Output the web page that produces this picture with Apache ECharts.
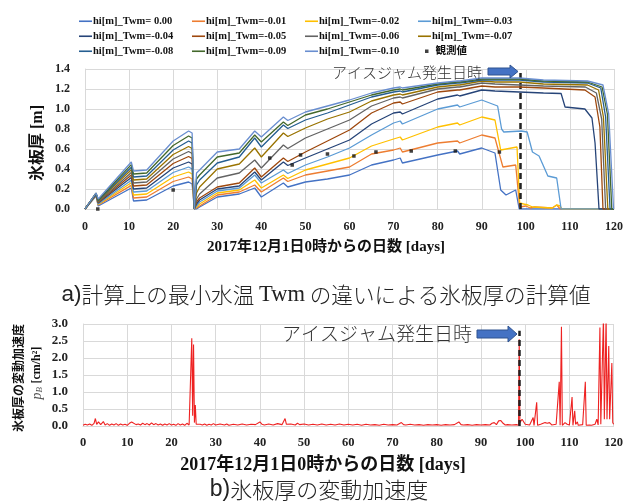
<!DOCTYPE html>
<html><head><meta charset="utf-8">
<script src="https://cdn.jsdelivr.net/npm/echarts/dist/echarts.min.js"></script>
<style>html,body{margin:0;padding:0;background:#fff}#c{width:626px;height:504px}</style>
</head><body><div id="c"></div>
<script>
// ---------- DATA ----------
const xTicks = [0,10,20,30,40,50,60,70,80,90,100,110,120];
const seriesNames = ['hi[m]_Twm= 0.00','hi[m]_Twm=-0.01','hi[m]_Twm=-0.02','hi[m]_Twm=-0.03',
  'hi[m]_Twm=-0.04','hi[m]_Twm=-0.05','hi[m]_Twm=-0.06','hi[m]_Twm=-0.07',
  'hi[m]_Twm=-0.08','hi[m]_Twm=-0.09','hi[m]_Twm=-0.10'];
const obsName = '観測値';
// common knots (days) for the growth period
const growDays = [0,2.5,3,10.5,11,14,20,23.5,24.3,24.8,25.3,26,30,35,38.5,40,45,46,50,55,60,65,70,71.5,72,80,84.5,85,90,93];
const hi000 = [0,.13,.03,.21,.08,.09,.23,.27,.25,0,0,.02,.12,.15,.21,.12,.26,.22,.27,.30,.34,.44,.49,.51,.46,.54,.58,.55,.61,.56];
const hi001 = [0,.135,.04,.236,.11,.12,.275,.32,.30,0,.01,.03,.14,.17,.24,.17,.31,.275,.34,.38,.42,.55,.59,.61,.57,.66,.68,.66,.74,.71];
const hi002 = [0,.14,.045,.262,.14,.15,.32,.37,.35,0,.02,.05,.16,.19,.29,.21,.34,.305,.39,.45,.51,.63,.70,.72,.69,.82,.86,.84,.92,.89];
const hi003 = [0,.14,.05,.288,.17,.18,.365,.42,.40,0,.03,.07,.18,.21,.34,.26,.39,.355,.44,.52,.61,.74,.86,.88,.85,1.00,1.04,1.02,1.09,1.04];
const hi004 = [0,.145,.06,.314,.20,.21,.41,.47,.45,0,.05,.09,.20,.23,.37,.29,.47,.435,.51,.60,.69,.85,.96,.97,.95,1.10,1.14,1.13,1.19,1.18];
const hi005 = [0,.15,.065,.34,.23,.24,.455,.525,.505,0,.07,.11,.22,.26,.41,.32,.51,.475,.57,.68,.79,.96,1.06,1.07,1.05,1.17,1.19,1.19,1.23,1.22];
const hi006 = [0,.15,.07,.366,.26,.27,.50,.575,.555,0,.10,.15,.31,.36,.49,.41,.64,.605,.71,.80,.89,1.03,1.11,1.12,1.11,1.20,1.22,1.22,1.26,1.25];
const hi007 = [0,.155,.08,.392,.29,.30,.545,.625,.605,0,.16,.22,.40,.45,.61,.52,.76,.725,.81,.90,.97,1.08,1.14,1.15,1.14,1.22,1.24,1.24,1.28,1.27];
const hi008 = [0,.155,.085,.418,.32,.33,.59,.68,.66,0,.24,.29,.46,.52,.71,.62,.84,.805,.89,.96,1.04,1.12,1.17,1.18,1.17,1.24,1.26,1.26,1.29,1.29];
const hi009 = [0,.16,.09,.444,.35,.36,.635,.73,.71,0,.30,.34,.52,.56,.74,.67,.87,.835,.94,1.00,1.07,1.14,1.19,1.20,1.19,1.25,1.27,1.27,1.30,1.30];
const hi010 = [0,.16,.10,.47,.38,.39,.68,.78,.76,0,.36,.39,.57,.60,.78,.72,.92,.885,.97,1.03,1.09,1.16,1.21,1.22,1.21,1.26,1.28,1.28,1.31,1.31];
// tails after day 93: [day, value]
const tail000 = [[94.3,.19],[95.5,.14],[97.7,.19],[98.5,0],[120,0]];
const tail001 = [[94.8,.42],[97.7,.44],[98.6,.02],[100,.03],[101,.01],[102,.02],[106,.01],[107,.04],[107.8,0],[120,0]];
const tail002 = [[94.3,.59],[98,.62],[98.6,.06],[99.5,.05],[100.5,.04],[101.5,.02],[106,.01],[107,.04],[107.8,.03],[108.2,0],[120,0]];
const tail003 = [[93.6,1.03],[94.5,.80],[95,.77],[99,.78],[100.3,.77],[101.5,.57],[103,.53],[105,.33],[107,.31],[108,0],[120,0]];
const tail004 = [[98.5,1.17],[104,1.16],[108,1.155],[108.9,1.02],[113.4,1.0],[115,.91],[115.7,.66],[116.6,0],[120,0]];
const tail005 = [[98.5,1.22],[104,1.21],[113.4,1.19],[115.7,1.12],[116.8,.82],[117.5,0],[120,0]];
const tail006 = [[98.5,1.24],[104,1.23],[113.5,1.22],[116,1.16],[117.2,.9],[118.1,0],[120,0]];
const tail007 = [[98.5,1.27],[104,1.25],[114,1.24],[116.5,1.19],[117.6,.92],[118.6,0],[120,0]];
const tail008 = [[98.5,1.29],[104,1.27],[114,1.26],[117,1.21],[118.1,.92],[119.1,0],[120,0]];
const tail009 = [[98.5,1.30],[104,1.28],[114,1.27],[117.3,1.22],[118.5,.95],[119.5,0],[120,0]];
const tail010 = [[98.5,1.31],[104,1.29],[114,1.28],[117.5,1.24],[118.8,.95],[119.9,0]];
const observed = [[2.9,0.0],[20,0.19],[41.9,0.51],[47,0.44],[48.9,0.54],[55,0.55],[61,0.53],[66,0.57],[74,0.58],[84,0.58],[94,0.57]];
const iceJamDay = 98.7;
// p_B (bottom chart)
const pB = [[0,.02],[0.5,.05],[1,.03],[1.5,.06],[2,.02],[2.5,.08],[2.8,.22],[3.1,.05],[3.5,.12],[4,.04],[4.6,.13],[5,.03],[5.5,.07],[6,.02],[6.5,.06],[7,.03],[7.5,.07],[8,.02],[8.5,.06],[9,.03],[9.5,.05],[10,.02],[10.5,.08],[11,.12],[11.4,.07],[12,.04],[12.5,.06],[13,.03],[13.5,.08],[14,.04],[14.5,.07],[15,.03],[15.5,.09],[16,.04],[16.5,.07],[17,.03],[17.5,.06],[18,.02],[18.5,.06],[19,.03],[19.5,.07],[20,.03],[20.5,.05],[21,.02],[21.5,.07],[22,.03],[22.5,.06],[23,.02],[23.5,.08],[24,.03],[24.4,.05],[24.6,2.58],[24.8,.3],[25,2.4],[25.2,.1],[25.4,.62],[25.6,.05],[26,.02],[26.5,.05],[27,.03],[27.5,.06],[28,.02],[28.5,.05],[29,.03],[29.5,.07],[30,.03],[31,.06],[32,.03],[32.5,.06],[33,.02],[34,.05],[35,.03],[36,.06],[37,.03],[38,.05],[39,.04],[40,.12],[40.5,.05],[41,.03],[42,.06],[43,.03],[44,.07],[45,.04],[45.7,.22],[46,.05],[47,.06],[48,.03],[48.5,.08],[49,.04],[50,.06],[51,.03],[52,.05],[53,.03],[54,.06],[55,.03],[56,.05],[57,.03],[58,.06],[59,.03],[60,.05],[61,.03],[62,.05],[63,.02],[64,.05],[65,.03],[66,.04],[67,.02],[68,.05],[69,.03],[70,.04],[71,.03],[72,.1],[72.5,.04],[73,.03],[74,.05],[75,.03],[76,.04],[77,.02],[78,.04],[79,.03],[80,.04],[81,.02],[82,.04],[83,.03],[84,.04],[85,.12],[85.5,.04],[86,.03],[87,.04],[88,.02],[89,.04],[90,.03],[91,.04],[92,.03],[92.5,.08],[93,.1],[93.5,.04],[94,.15],[94.5,.16],[95,.08],[95.5,.03],[96,.04],[97,.03],[98,.04],[98.5,.02],[98.65,2.55],[98.8,.1],[99.3,.2],[99.6,.22],[100,.05],[101,.03],[101.8,.25],[102,.02],[102.6,.7],[102.8,.02],[103.5,.05],[104.5,.1],[105,.08],[105.5,.1],[106,.03],[107,.05],[107.7,1.3],[107.9,.02],[108.2,2.92],[108.4,.02],[109,.1],[109.5,.05],[110,.03],[110.6,.85],[110.8,.02],[111.2,.45],[111.4,.05],[111.8,.12],[112,.02],[113,.04],[113.6,1.3],[113.8,.02],[114.5,.03],[115,.02],[115.8,.05],[116.2,.2],[116.5,.03],[116.9,2.9],[117.1,.05],[117.7,3.2],[117.9,.2],[118.3,3.2],[118.5,.2],[118.9,2.35],[119.1,.2],[119.6,1.85],[119.8,.1],[120,.05]];

// ---------- CHART ----------
const colors = ['#4472C4','#ED7D31','#FFC000','#5B9BD5','#264478','#9E480E','#636363','#997300','#255E91','#43682B','#698ED0'];
const grows = [hi000,hi001,hi002,hi003,hi004,hi005,hi006,hi007,hi008,hi009,hi010];
const tails = [tail000,tail001,tail002,tail003,tail004,tail005,tail006,tail007,tail008,tail009,tail010];
const SERIF = "'Liberation Serif','Times New Roman','Noto Sans CJK JP',serif";
const JP = "'Liberation Serif','Noto Sans CJK JP',sans-serif";
const gridColor = '#d9d9d9';

function xAx(gi, fs, mg){
  return {type:'value', gridIndex:gi, min:0, max:120, interval:10,
    axisLine:{show:true, lineStyle:{color:gridColor}}, axisTick:{show:false},
    splitLine:{show:true, lineStyle:{color:gridColor}},
    axisLabel:{fontFamily:SERIF, fontWeight:'bold', fontSize:fs, color:'#222', margin:mg}};
}
const series = [];
for (let i=0;i<11;i++){
  const data = growDays.map((d,k)=>[d, grows[i][k]]).concat(tails[i]);
  series.push({name:seriesNames[i], type:'line', xAxisIndex:0, yAxisIndex:0, data, symbol:'none', showSymbol:false,
    lineStyle:{width:1.3, color:colors[i]}, itemStyle:{color:colors[i]}, z:2+i});
}
series.push({name:obsName, type:'scatter', xAxisIndex:0, yAxisIndex:0, data:observed,
  symbol:'rect', symbolSize:3.5, itemStyle:{color:'#111'}, z:20,
  markLine:{silent:true, symbol:'none', label:{show:false},
    lineStyle:{type:[6,4], color:'#222', width:2.5},
    data:[[{coord:[iceJamDay,0]},{coord:[iceJamDay,1.4]}]]}});
series.push({name:'pB', type:'line', xAxisIndex:1, yAxisIndex:1, data:pB, symbol:'none',
  lineStyle:{width:1.1, color:'#EE2222'}, z:3,
  markLine:{silent:true, symbol:'none', label:{show:false},
    lineStyle:{type:[6,4], color:'#222', width:2.5},
    data:[[{coord:[iceJamDay,0]},{coord:[iceJamDay,2.8]}]]}});

const legends = [];
const colX = [79,192,305,418];
const rowY = [16,31,46];
for (let i=0;i<11;i++){
  legends.push({data:[{name:seriesNames[i], icon:'rect'}], left:colX[i%4], top:rowY[Math.floor(i/4)], padding:0,
    itemWidth:13, itemHeight:1.6, selectedMode:false,
    textStyle:{fontFamily:SERIF, fontWeight:'bold', fontSize:10.5, color:'#111', padding:[0,0,0,-4]}});
}
legends.push({data:[{name:obsName, icon:'rect'}], left:425, top:rowY[2], padding:0, itemWidth:3.5, itemHeight:3.5,
  selectedMode:false, textStyle:{fontFamily:JP, fontWeight:'bold', fontSize:10.5, color:'#111', padding:[0,0,0,2]}});

function arrow(x0,x1,xh,y,bh,hh){
  return {type:'polygon', shape:{points:[[x0,y-bh/2],[xh,y-bh/2],[xh,y-hh/2],[x1,y],[xh,y+hh/2],[xh,y+bh/2],[x0,y+bh/2]]},
    style:{fill:'#4472C4', stroke:'#2F528F', lineWidth:1}, z:50};
}

const option = {
  animation:false,
  grid:[{left:85, right:11, top:69, height:140},{left:83, right:12, top:324, height:102}],
  xAxis:[xAx(0,12,12), xAx(1,12.5,11)],
  yAxis:[
    {type:'value', gridIndex:0, min:0, max:1.4, interval:0.2,
      axisLine:{show:true, lineStyle:{color:gridColor}}, axisTick:{show:false},
      splitLine:{lineStyle:{color:gridColor}},
      axisLabel:{fontFamily:SERIF, fontWeight:'bold', fontSize:12, color:'#222', margin:15, formatter:v=>v.toFixed(1)}},
    {type:'value', gridIndex:1, min:0, max:3, interval:0.5,
      axisLine:{show:true, lineStyle:{color:gridColor}}, axisTick:{show:false},
      splitLine:{lineStyle:{color:gridColor}},
      axisLabel:{fontFamily:SERIF, fontWeight:'bold', fontSize:13, color:'#222', margin:15, formatter:v=>v.toFixed(1)}}
  ],
  legend:legends,
  series,
  graphic:[
    {type:'text', x:326, y:247, style:{text:'2017年12月1日0時からの日数 [days]', font:"bold 15px "+JP, fill:'#111', align:'center', verticalAlign:'middle'}},
    {type:'text', x:38, y:143, rotation:Math.PI/2, style:{text:'氷板厚 [m]', font:"bold 16px "+JP, fill:'#111', align:'center', verticalAlign:'middle'}},
    {type:'text', x:326, y:295, style:{rich:{
        a:{font:"22.5px 'Liberation Sans',Arial,sans-serif", fill:'#222'},
        j:{font:"300 21.6px 'Noto Sans CJK JP',sans-serif", fill:'#222'},
        t:{font:"22.5px 'Liberation Serif',serif", fill:'#222'}},
      text:'{a|a)}{j|計算上の最小水温 }{t|Twm}{j| の違いによる氷板厚の計算値}', align:'center', verticalAlign:'middle'}},
    {type:'text', x:332, y:72, style:{text:'アイスジャム発生日時', font:"300 15px 'Noto Sans CJK JP',sans-serif", fill:'#333', align:'left', verticalAlign:'middle'}, z:50},
    arrow(488,518,510,71.5,7,13),
    {type:'text', x:323, y:465, style:{text:'2017年12月1日0時からの日数 [days]', font:"bold 18px "+JP, fill:'#111', align:'center', verticalAlign:'middle'}},
    {type:'text', x:18, y:378, rotation:Math.PI/2, style:{text:'氷板厚の変動加速度', font:"bold 12px 'Noto Sans CJK JP',sans-serif", fill:'#111', align:'center', verticalAlign:'middle'}},
    {type:'text', x:37, y:373, rotation:Math.PI/2, style:{rich:{
        p:{font:"italic 14px 'Liberation Serif',serif", fill:'#555'},
        s:{font:"italic 9px 'Liberation Serif',serif", fill:'#555', verticalAlign:'bottom'},
        u:{font:"bold 12px 'Liberation Serif',serif", fill:'#111'}},
      text:'{p|p}{s|B} {u|[cm/h²]}', align:'center', verticalAlign:'middle'}},
    {type:'text', x:472, y:334, style:{text:'アイスジャム発生日時', font:"300 19px 'Noto Sans CJK JP',sans-serif", fill:'#333', align:'right', verticalAlign:'middle'}, z:50},
    arrow(477,517,508,334,8,16),
    {type:'text', x:319, y:490, style:{rich:{
        a:{font:"23px 'Liberation Sans',Arial,sans-serif", fill:'#222'},
        j:{font:"300 22px 'Noto Sans CJK JP',sans-serif", fill:'#222'}},
      text:'{a|b)}{j|氷板厚の変動加速度}', align:'center', verticalAlign:'middle'}}
  ]
};
const chart = echarts.init(document.getElementById('c'), null, {renderer:'canvas'});
chart.setOption(option);
</script></body></html>
